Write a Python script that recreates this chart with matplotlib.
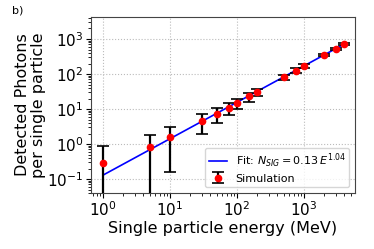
import numpy as np
import matplotlib
matplotlib.use("Agg")
import matplotlib.pyplot as plt

energy = [1, 5, 10, 30, 50, 75, 100, 150, 200, 500, 750, 1000, 2000, 3000, 4000]
photons = [0.29, 0.84, 1.6, 4.45, 7.3, 10.9, 14.8, 23, 31, 81, 124, 168, 350, 530, 720]
err_up = [0.58, 0.96, 1.46, 2.65, 3.2, 4.1, 4.6, 6, 6, 12, 20, 22, 30, 40, 50]
err_low = [0.29, 0.84, 1.44, 2.5, 3.4, 4.3, 4.8, 6.8, 8, 12, 20, 22, 30, 40, 50]
fit_a, fit_b = 0.13, 1.04

fig = plt.figure(figsize=(3.74, 2.49), dpi=100)
ax = fig.add_axes([91/374, 1-193/249, (355-91)/374, (193-17)/249])

xf = np.logspace(0, np.log10(4000), 100)
ax.plot(xf, fit_a * xf**fit_b, color="blue", lw=1.2, label=r"Fit: $N_{SIG} = 0.13\,E^{1.04}$", zorder=2)
ax.errorbar(energy, photons, yerr=[err_low, err_up], fmt="o", color="red", ms=4.5,
            ecolor="black", elinewidth=1.6, capsize=4.5, capthick=1.2, label="Simulation", zorder=3)

ax.set_xscale("log")
ax.set_yscale("log")
ax.set_xlim(0.66, 5760)
ax.set_ylim(0.04, 4260)
ax.grid(True, which="major", linestyle=":", color="#bbbbbb", lw=0.8)
ax.tick_params(which="major", labelsize=11, length=3.5, pad=2)
ax.tick_params(which="minor", length=2)
ax.set_xlabel("Single particle energy (MeV)", fontsize=11.5, labelpad=1)
ax.set_ylabel("Detected Photons\nper single particle", fontsize=11.5, labelpad=1, linespacing=1.05)
for s in ax.spines.values():
    s.set_color("#444444")
ax.legend(loc="lower right", fontsize=8, framealpha=0.8, handlelength=1.6,
          labelspacing=0.3, borderpad=0.35)
fig.text(12/374, 1-10/249, "b)", fontsize=8, va="center")
fig.savefig("out.png", dpi=100)
